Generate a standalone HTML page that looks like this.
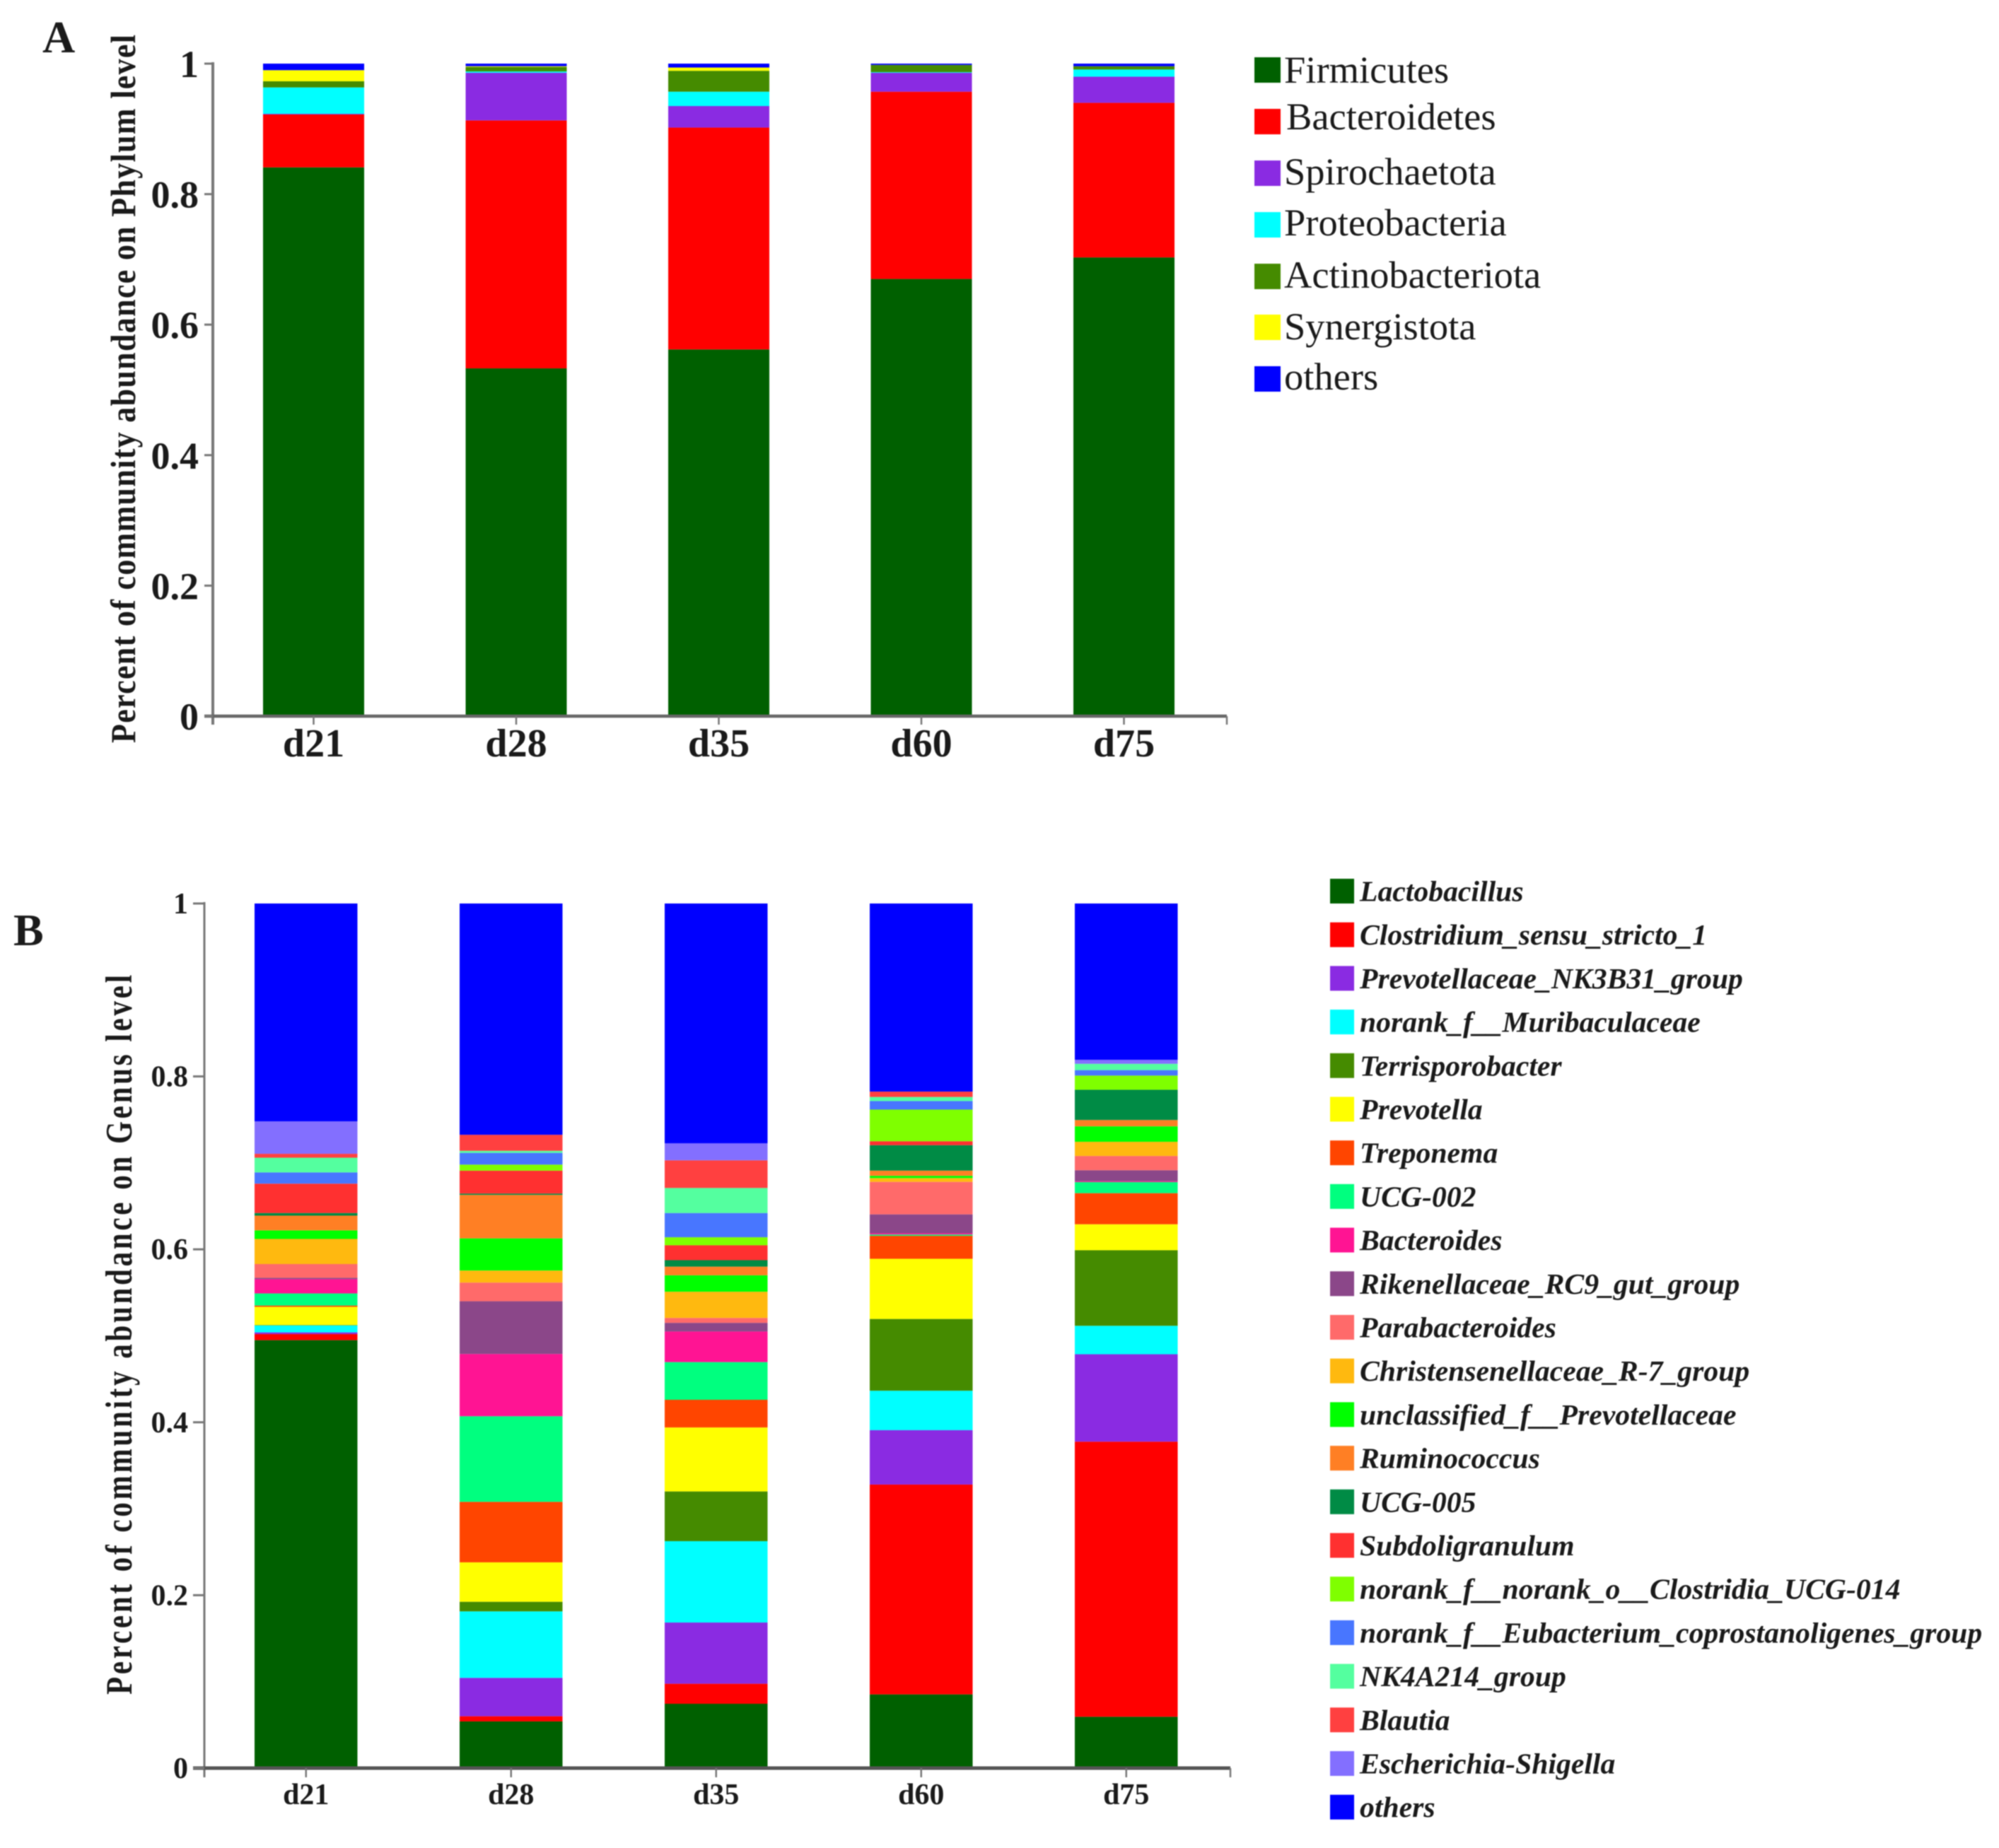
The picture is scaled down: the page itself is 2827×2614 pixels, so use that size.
<!DOCTYPE html>
<html lang="en">
<head>
<meta charset="utf-8">
<title>Community abundance at phylum and genus level</title>
<style>
html,body{margin:0;padding:0;background:#fff;width:2827px;height:2614px;overflow:hidden}
svg{display:block;filter:blur(0.8px)}
text{font-family:"Liberation Serif",serif;fill:#1a1a1a}
</style>
</head>
<body>
<svg id="figure" xmlns="http://www.w3.org/2000/svg" width="2827" height="2614" viewBox="0 0 2827 2614">
<rect width="2827" height="2614" fill="#fff"/>
<text x="60" y="74" font-size="64" font-weight="bold" fill="#000">A</text>
<text x="19" y="1337" font-size="64" font-weight="bold" fill="#000">B</text>
<text transform="translate(191,550) rotate(-90) scale(1,1.12)" text-anchor="middle" font-size="44" font-weight="bold" textLength="1002" lengthAdjust="spacing">Percent of community abundance on Phylum level</text>
<text transform="translate(186,1888) rotate(-90) scale(1,1.3)" text-anchor="middle" font-size="41" font-weight="bold" textLength="1018" lengthAdjust="spacing">Percent of community abundance on Genus level</text>
<g id="chart-a"></g>
<g id="chart-b"></g>
</svg>
<script>
var days = ['d21', 'd28', 'd35', 'd60', 'd75'];
var yTickLabels = ['0', '0.2', '0.4', '0.6', '0.8', '1'];
var yTickValues = [0, 0.2, 0.4, 0.6, 0.8, 1];

var phylumNames = ['Firmicutes', 'Bacteroidetes', 'Spirochaetota', 'Proteobacteria', 'Actinobacteriota', 'Synergistota', 'others'];
var phylumColors = ['#006000', '#ff0000', '#8a2be2', '#00ffff', '#458b00', '#ffff00', '#0000ff'];
var phylumD21 = [0.841, 0.081, 0.001, 0.0405, 0.0095, 0.017, 0.010];
var phylumD28 = [0.533, 0.380, 0.073, 0.002, 0.007, 0.001, 0.004];
var phylumD35 = [0.562, 0.340, 0.033, 0.022, 0.032, 0.005, 0.006];
var phylumD60 = [0.670, 0.287, 0.029, 0.001, 0.011, 0.000, 0.002];
var phylumD75 = [0.703, 0.237, 0.040, 0.011, 0.005, 0.000, 0.004];
var phylumValues = [phylumD21, phylumD28, phylumD35, phylumD60, phylumD75];

var genusNames = ['Lactobacillus', 'Clostridium_sensu_stricto_1', 'Prevotellaceae_NK3B31_group', 'norank_f__Muribaculaceae', 'Terrisporobacter', 'Prevotella', 'Treponema', 'UCG-002', 'Bacteroides', 'Rikenellaceae_RC9_gut_group', 'Parabacteroides', 'Christensenellaceae_R-7_group', 'unclassified_f__Prevotellaceae', 'Ruminococcus', 'UCG-005', 'Subdoligranulum', 'norank_f__norank_o__Clostridia_UCG-014', 'norank_f__Eubacterium_coprostanoligenes_group', 'NK4A214_group', 'Blautia', 'Escherichia-Shigella', 'others'];
var genusColors = ['#006000', '#ff0000', '#8a2be2', '#00ffff', '#458b00', '#ffff00', '#ff4500', '#00ff7f', '#ff1493', '#8b4789', '#ff6a6a', '#ffb90f', '#00ff00', '#ff7f24', '#008b45', '#ff3030', '#7fff00', '#4876ff', '#54ff9f', '#ff4040', '#836fff', '#0000ff'];
var genusD21 = [0.495, 0.007, 0.002, 0.008, 0.0005, 0.021, 0.0015, 0.014, 0.0165, 0.0015, 0.016, 0.029, 0.010, 0.017, 0.003, 0.034, 0, 0.013, 0.017, 0.0045, 0.0375, 0.252];
var genusD28 = [0.054, 0.006, 0.0444, 0.0769, 0.0111, 0.0456, 0.070, 0.099, 0.072, 0.061, 0.0216, 0.0139, 0.0372, 0.0503, 0.0015, 0.0265, 0.007, 0.0136, 0.0024, 0.0185, 0, 0.2675];
var genusD35 = [0.0744, 0.0232, 0.0708, 0.0941, 0.0575, 0.074, 0.032, 0.0436, 0.0354, 0.010, 0.0057, 0.0303, 0.019, 0.010, 0.0075, 0.0172, 0.0093, 0.028, 0.029, 0.032, 0.0196, 0.2774];
var genusD60 = [0.0853, 0.2427, 0.063, 0.0456, 0.083, 0.0696, 0.0266, 0.0015, 0.0014, 0.0219, 0.0376, 0.0044, 0.0026, 0.006, 0.0294, 0.0046, 0.0366, 0.0099, 0.0047, 0.0062, 0, 0.2176];
var genusD75 = [0.0594, 0.3182, 0.1011, 0.0329, 0.0874, 0.030, 0.036, 0.0128, 0.001, 0.0127, 0.0165, 0.0164, 0.0179, 0.0073, 0.035, 0, 0.0164, 0.0063, 0.0073, 0, 0.0047, 0.1807];
var genusValues = [genusD21, genusD28, genusD35, genusD60, genusD75];

var SVGNS = 'http://www.w3.org/2000/svg';

function slug(s) {
  return s.toLowerCase().replace(/[^a-z0-9]+/g, '-').replace(/^-|-$/g, '');
}

function makeLine(parent, x1, y1, x2, y2, color, width, name) {
  var el = document.createElementNS(SVGNS, 'line');
  el.setAttribute('x1', x1);
  el.setAttribute('y1', y1);
  el.setAttribute('x2', x2);
  el.setAttribute('y2', y2);
  el.setAttribute('stroke', color);
  el.setAttribute('stroke-width', width);
  
  
  parent.appendChild(el);
}

function makeRect(parent, x, y, w, h, color, name) {
  var el = document.createElementNS(SVGNS, 'rect');
  el.setAttribute('x', x);
  el.setAttribute('y', y);
  el.setAttribute('width', w);
  el.setAttribute('height', h);
  el.setAttribute('fill', color);
  
  
  parent.appendChild(el);
}

function makeText(parent, x, y, str, size, anchor, bold, italic, name) {
  var el = document.createElementNS(SVGNS, 'text');
  el.setAttribute('x', x);
  el.setAttribute('y', y);
  el.setAttribute('font-size', size);
  el.setAttribute('text-anchor', anchor);
  if (bold) el.setAttribute('font-weight', 'bold');
  if (italic) el.setAttribute('font-style', 'italic');
  el.textContent = str;
  
  
  parent.appendChild(el);
}

function drawChart(parent, opts, names, colors, values) {
  function yScale(v) { return opts.y0 - v * (opts.y0 - opts.y1); }
  function barLeft(i) { return opts.barStart + i * opts.barStep; }
  function center(i) { return barLeft(i) + opts.barWidth / 2; }

  values.forEach(function (sample, i) {
    var total = sample.reduce(function (a, b) { return a + b; }, 0);
    var cum = 0;
    sample.forEach(function (v, s) {
      var bottom = yScale(cum / total);
      cum += v;
      var top = yScale(cum / total);
      if (v > 0) {
        makeRect(parent, barLeft(i), top, opts.barWidth, bottom - top, colors[s], 'bar-' + days[i] + '-' + slug(names[s]));
      }
    });
  });

  makeLine(parent, opts.axisX, opts.y1 - 2, opts.axisX, opts.tickEnd, opts.axisColor, opts.axisWidth, 'y-axis-line');
  makeLine(parent, opts.baseStart, opts.y0, opts.baseEnd, opts.y0, opts.baseColor, opts.baseWidth, 'x-axis-line');
  makeLine(parent, opts.baseEnd, opts.y0, opts.baseEnd, opts.tickEnd, opts.axisColor, 2.5, 'x-axis-end-tick');

  yTickValues.forEach(function (v, i) {
    var y = yScale(v);
    makeLine(parent, opts.yTickStart, y, opts.axisX, y, opts.axisColor, 3, 'y-tick-' + yTickLabels[i]);
    makeText(parent, opts.yLabelX, y + opts.yLabelDy, yTickLabels[i], opts.yFont, 'end', true, false, 'y-tick-label-' + yTickLabels[i]);
  });

  days.forEach(function (d, i) {
    makeLine(parent, center(i), opts.y0, center(i), opts.tickEnd, opts.axisColor, 2.5, 'x-tick-' + d);
    makeText(parent, center(i), opts.xLabelY, d, opts.xFont, 'middle', true, false, 'x-tick-label-' + d);
  });
}

function drawLegendA(parent) {
  var swatchTops = [81, 154, 227, 300, 373, 445, 518];
  var baselines = [117, 183, 261, 333, 407, 480, 551];
  phylumNames.forEach(function (n, i) {
    makeRect(parent, 1774, swatchTops[i], 37, 36, phylumColors[i], 'legend-swatch-' + slug(n));
    makeText(parent, i === 1 ? 1819 : 1816, baselines[i], n, 54.5, 'start', false, false, 'legend-entry-' + slug(n));
  });
}

function drawLegendB(parent) {
  genusNames.forEach(function (n, i) {
    var top = 1243 + i * 61.7;
    makeRect(parent, 1881, top, 34, 35, genusColors[i], 'legend-swatch-' + slug(n));
    makeText(parent, 1923, top + 31.5, n, 41.7, 'start', true, true, 'legend-entry-' + slug(n));
  });
}

var chartA = document.getElementById('chart-a');
var chartB = document.getElementById('chart-b');

drawChart(chartA, {
  y0: 1013, y1: 90, barStart: 372, barStep: 286.5, barWidth: 143,
  axisX: 301, axisWidth: 4, axisColor: '#777', baseColor: '#666', baseWidth: 4.5,
  baseStart: 289, baseEnd: 1735, tickEnd: 1025, yTickStart: 289,
  yLabelX: 281, yLabelDy: 19, yFont: 54, xLabelY: 1070, xFont: 56
}, phylumNames, phylumColors, phylumValues);

drawChart(chartB, {
  y0: 2501, y1: 1278, barStart: 360, barStep: 290, barWidth: 145.5,
  axisX: 289, axisWidth: 3, axisColor: '#777', baseColor: '#555', baseWidth: 5,
  baseStart: 273, baseEnd: 1740, tickEnd: 2514, yTickStart: 273,
  yLabelX: 266, yLabelDy: 14, yFont: 42, xLabelY: 2552, xFont: 42
}, genusNames, genusColors, genusValues);

drawLegendA(chartA);
drawLegendB(chartB);
</script>
</body>
</html>
